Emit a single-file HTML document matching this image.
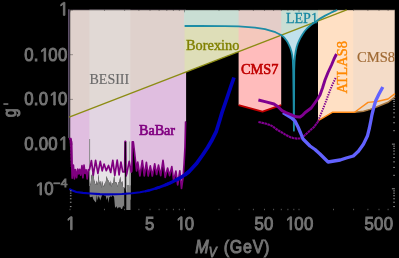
<!DOCTYPE html>
<html><head><meta charset="utf-8"><title>plot</title>
<style>
html,body{margin:0;padding:0;background:#000;}
body{width:399px;height:258px;overflow:hidden;}
svg{display:block;will-change:transform;}
text{font-family:"Liberation Sans",sans-serif;}
.ax{font-size:17.3px;letter-spacing:0.75px;stroke:#747474;stroke-width:0.95px;fill:#747474;}
.lb{font-family:"Liberation Serif",serif;font-size:14px;}
</style></head><body>
<svg width="399" height="258" viewBox="0 0 399 258">
<defs>
<clipPath id="cPlot"><rect x="70.0" y="9.8" width="324.6" height="200.7"/></clipPath>
<clipPath id="cBabar"><polygon points="70.0,9.8 186.1,9.8 186.1,121.3 185.6,121.3 185.6,121.5 185.0,147.0 184.0,165.0 183.0,178.0 181.5,188.5 179.8,170.8 177.7,184.8 175.9,171.0 173.7,180.9 171.8,166.6 169.6,175.6 167.6,168.0 165.2,177.3 163.0,160.4 160.7,175.7 158.5,165.2 156.6,174.5 154.7,163.9 152.3,176.0 150.3,165.8 148.2,176.0 146.4,162.3 144.3,175.8 142.3,160.7 139.9,175.9 137.7,162.0 136.6,171.0 134.5,152.0 133.3,141.8 132.3,141.8 131.8,171.0 131.2,172.2 129.2,161.4 126.9,173.2 126.0,176.0 125.5,141.3 125.1,141.3 124.6,172.0 122.8,171.8 120.9,162.0 119.1,174.9 117.2,160.1 114.8,175.4 112.8,160.4 110.7,172.5 108.5,165.5 106.3,170.7 104.1,164.1 102.2,170.8 100.3,161.4 97.9,173.3 95.6,160.3 93.3,175.2 91.4,160.7 89.4,169.8 88.3,169.8 87.2,178.8 86.1,169.8 85.0,173.5 84.0,165.2 82.9,177.8 82.0,165.7 80.7,175.1 79.7,169.3 78.7,173.9 77.7,169.2 76.6,177.6 75.3,169.5 74.4,178.8 73.4,165.2 72.2,178.2 71.8,166.0 71.3,150.0 70.9,138.5 70.0,139.0"/></clipPath>
<clipPath id="cBes"><polygon points="89.4,9.8 130.4,9.8 130.4,200.0 124.3,187.4 123.2,187.7 122.2,181.0 121.1,183.5 120.2,176.6 119.2,182.9 118.2,182.2 117.4,187.0 116.7,182.9 115.9,182.0 115.0,182.7 114.1,175.0 113.4,183.2 112.4,183.3 111.6,187.0 110.9,180.6 110.1,186.1 109.4,182.5 108.5,180.4 107.7,180.6 106.7,176.0 105.6,182.7 104.8,183.2 103.9,187.0 103.0,185.1 102.0,180.7 101.3,188.0 100.2,180.7 99.4,183.7 98.5,173.9 97.7,185.2 96.8,180.4 96.0,185.2 95.2,183.8 94.2,180.6 93.3,173.1 92.5,173.2 91.4,175.7 90.5,185.6 89.6,181.2 89.4,184.0"/></clipPath>
<clipPath id="cOl"><polygon points="70.0,9.8 346.7,9.8 70.0,116.9"/></clipPath>
<clipPath id="cLep"><polygon points="184.3,9.8 184.3,26.0 184.6,26.0 200.0,26.0 225.0,26.1 238.7,26.4 255.0,27.7 265.0,29.2 271.0,30.8 275.4,32.2 281.5,35.2 284.0,37.4 286.3,40.3 287.8,42.6 289.2,45.3 290.4,48.2 291.4,51.4 292.2,55.0 292.8,60.0 293.2,70.0 293.6,100.0 293.9,130.7 293.9,130.7 294.1,100.0 294.2,70.0 294.5,62.0 295.0,56.0 295.8,51.0 296.7,47.0 297.8,43.5 299.2,40.3 300.8,37.2 302.6,34.2 304.8,31.0 307.8,27.7 311.2,24.8 315.0,22.2 320.0,18.6 325.2,15.6 331.0,12.7 337.3,10.0 337.3,9.8"/></clipPath>
<clipPath id="cCms7"><polygon points="238.6,9.8 281.2,9.8 281.2,105.1 262.5,111.6 238.6,105.1"/></clipPath>
<clipPath id="cBelowOl"><polygon points="70.0,116.9 346.7,9.8 399,9.8 399,258 70.0,258"/></clipPath>
</defs>
<rect width="399" height="258" fill="#000"/>
<!-- BESIII only -->
<polygon points="89.4,9.8 130.4,9.8 130.4,200.0 124.3,187.4 123.2,187.7 122.2,181.0 121.1,183.5 120.2,176.6 119.2,182.9 118.2,182.2 117.4,187.0 116.7,182.9 115.9,182.0 115.0,182.7 114.1,175.0 113.4,183.2 112.4,183.3 111.6,187.0 110.9,180.6 110.1,186.1 109.4,182.5 108.5,180.4 107.7,180.6 106.7,176.0 105.6,182.7 104.8,183.2 103.9,187.0 103.0,185.1 102.0,180.7 101.3,188.0 100.2,180.7 99.4,183.7 98.5,173.9 97.7,185.2 96.8,180.4 96.0,185.2 95.2,183.8 94.2,180.6 93.3,173.1 92.5,173.2 91.4,175.7 90.5,185.6 89.6,181.2 89.4,184.0" fill="#e7e3e7"/>
<!-- BaBar -->
<polygon points="70.0,9.8 186.1,9.8 186.1,121.3 185.6,121.3 185.6,121.5 185.0,147.0 184.0,165.0 183.0,178.0 181.5,188.5 179.8,170.8 177.7,184.8 175.9,171.0 173.7,180.9 171.8,166.6 169.6,175.6 167.6,168.0 165.2,177.3 163.0,160.4 160.7,175.7 158.5,165.2 156.6,174.5 154.7,163.9 152.3,176.0 150.3,165.8 148.2,176.0 146.4,162.3 144.3,175.8 142.3,160.7 139.9,175.9 137.7,162.0 136.6,171.0 134.5,152.0 133.3,141.8 132.3,141.8 131.8,171.0 131.2,172.2 129.2,161.4 126.9,173.2 126.0,176.0 125.5,141.3 125.1,141.3 124.6,172.0 122.8,171.8 120.9,162.0 119.1,174.9 117.2,160.1 114.8,175.4 112.8,160.4 110.7,172.5 108.5,165.5 106.3,170.7 104.1,164.1 102.2,170.8 100.3,161.4 97.9,173.3 95.6,160.3 93.3,175.2 91.4,160.7 89.4,169.8 88.3,169.8 87.2,178.8 86.1,169.8 85.0,173.5 84.0,165.2 82.9,177.8 82.0,165.7 80.7,175.1 79.7,169.3 78.7,173.9 77.7,169.2 76.6,177.6 75.3,169.5 74.4,178.8 73.4,165.2 72.2,178.2 71.8,166.0 71.3,150.0 70.9,138.5 70.0,139.0" fill="#e0bee0"/>
<g clip-path="url(#cBabar)"><polygon points="89.4,9.8 130.4,9.8 130.4,200.0 124.3,187.4 123.2,187.7 122.2,181.0 121.1,183.5 120.2,176.6 119.2,182.9 118.2,182.2 117.4,187.0 116.7,182.9 115.9,182.0 115.0,182.7 114.1,175.0 113.4,183.2 112.4,183.3 111.6,187.0 110.9,180.6 110.1,186.1 109.4,182.5 108.5,180.4 107.7,180.6 106.7,176.0 105.6,182.7 104.8,183.2 103.9,187.0 103.0,185.1 102.0,180.7 101.3,188.0 100.2,180.7 99.4,183.7 98.5,173.9 97.7,185.2 96.8,180.4 96.0,185.2 95.2,183.8 94.2,180.6 93.3,173.1 92.5,173.2 91.4,175.7 90.5,185.6 89.6,181.2 89.4,184.0" fill="#e2d5e2"/></g>
<!-- above olive, x<185 -->
<g clip-path="url(#cOl)"><rect x="70.0" y="9.8" width="114.3" height="120" fill="#dfd1cc"/>
<rect x="89.4" y="9.8" width="41" height="120" fill="#e1d9d5"/>
<!-- Borexino only -->
<rect x="184.3" y="9.8" width="170" height="120" fill="#dedeb8"/>
<rect x="238.6" y="9.8" width="42.6" height="120" fill="#f4c8bc"/>
<rect x="318" y="9.8" width="40" height="120" fill="#ffe0c4"/>
</g>
<!-- CMS7 below olive -->
<g clip-path="url(#cBelowOl)"><polygon points="238.6,9.8 281.2,9.8 281.2,105.1 262.5,111.6 238.6,105.1" fill="#ffbcbc"/></g>
<!-- LEP -->
<g clip-path="url(#cLep)">
<rect x="184.3" y="9.8" width="160" height="125" fill="#c1e1ec"/>
<g clip-path="url(#cOl)"><rect x="184.3" y="9.8" width="160" height="125" fill="#c9ded4"/>
<rect x="238.6" y="9.8" width="42.6" height="125" fill="#e4cdc8"/>
<rect x="318" y="9.8" width="40" height="125" fill="#e9dcc6"/></g>
</g>
<!-- ATLAS8 / CMS8 -->
<g clip-path="url(#cBelowOl)">
<polygon points="318.0,9.8 355.0,9.8 355.0,112.3 332.3,112.3 319.5,119.8 318.0,121.4" fill="#ffe0c4"/>
</g>
<polygon points="353.2,9.8 395.0,9.8 395.0,96.8 388.0,102.3 377.0,106.8 370.0,109.4 363.5,111.2 354.6,112.3 353.2,112.3" fill="#f4dcc8"/>
<polygon points="354.6,112.3 368.0,102.4 377.0,101.5 388.0,99.0 395.0,93.6 395.0,96.8 388.0,102.3 377.0,106.8 370.0,109.4 363.5,111.2 354.6,112.3" fill="#e8d8c8"/>
<g clip-path="url(#cLep)"><rect x="318" y="9.8" width="30" height="20" fill="#e9dcc6"/></g>

<!-- frame/ticks (black) -->
<g stroke="#000" stroke-width="0.6" fill="none" stroke-opacity="0.55"><line x1="70.0" y1="161.9" x2="70.0" y2="161.9"/><line x1="70.0" y1="157.6" x2="70.0" y2="157.6"/><line x1="70.0" y1="154.0" x2="70.0" y2="154.0"/><line x1="70.0" y1="151.0" x2="70.0" y2="151.0"/><line x1="70.0" y1="148.4" x2="70.0" y2="148.4"/><line x1="70.0" y1="146.1" x2="70.0" y2="146.1"/><line x1="70.0" y1="144.1" x2="73.0" y2="144.1"/><line x1="70.0" y1="130.6" x2="70.0" y2="130.6"/><line x1="70.0" y1="122.8" x2="70.0" y2="122.8"/><line x1="70.0" y1="117.2" x2="70.0" y2="117.2"/><line x1="70.0" y1="112.9" x2="70.0" y2="112.9"/><line x1="70.0" y1="109.3" x2="70.0" y2="109.3"/><line x1="70.0" y1="106.3" x2="70.0" y2="106.3"/><line x1="70.0" y1="103.7" x2="70.0" y2="103.7"/><line x1="70.0" y1="101.4" x2="70.0" y2="101.4"/><line x1="70.0" y1="99.4" x2="73.0" y2="99.4"/><line x1="70.0" y1="85.9" x2="70.0" y2="85.9"/><line x1="70.0" y1="78.1" x2="70.0" y2="78.1"/><line x1="70.0" y1="72.5" x2="70.0" y2="72.5"/><line x1="70.0" y1="68.2" x2="70.0" y2="68.2"/><line x1="70.0" y1="64.6" x2="70.0" y2="64.6"/><line x1="70.0" y1="61.6" x2="70.0" y2="61.6"/><line x1="70.0" y1="59.0" x2="70.0" y2="59.0"/><line x1="70.0" y1="56.7" x2="70.0" y2="56.7"/><line x1="70.0" y1="54.7" x2="73.0" y2="54.7"/><line x1="70.0" y1="41.2" x2="70.0" y2="41.2"/><line x1="70.0" y1="33.4" x2="70.0" y2="33.4"/><line x1="70.0" y1="27.8" x2="70.0" y2="27.8"/><line x1="70.0" y1="23.5" x2="70.0" y2="23.5"/><line x1="70.0" y1="19.9" x2="70.0" y2="19.9"/><line x1="70.0" y1="16.9" x2="70.0" y2="16.9"/><line x1="70.0" y1="14.3" x2="70.0" y2="14.3"/><line x1="70.0" y1="12.0" x2="70.0" y2="12.0"/><line x1="70.0" y1="10.0" x2="73.0" y2="10.0"/><line x1="70.0" y1="9.8" x2="70.0" y2="12.3"/><line x1="104.5" y1="9.8" x2="104.5" y2="11.0"/><line x1="124.6" y1="9.8" x2="124.6" y2="11.0"/><line x1="138.9" y1="9.8" x2="138.9" y2="11.0"/><line x1="150.0" y1="9.8" x2="150.0" y2="11.0"/><line x1="159.1" y1="9.8" x2="159.1" y2="11.0"/><line x1="166.8" y1="9.8" x2="166.8" y2="11.0"/><line x1="173.4" y1="9.8" x2="173.4" y2="11.0"/><line x1="179.3" y1="9.8" x2="179.3" y2="11.0"/><line x1="184.5" y1="9.8" x2="184.5" y2="12.3"/><line x1="219.0" y1="9.8" x2="219.0" y2="11.0"/><line x1="239.1" y1="9.8" x2="239.1" y2="11.0"/><line x1="253.4" y1="9.8" x2="253.4" y2="11.0"/><line x1="264.5" y1="9.8" x2="264.5" y2="11.0"/><line x1="273.6" y1="9.8" x2="273.6" y2="11.0"/><line x1="281.3" y1="9.8" x2="281.3" y2="11.0"/><line x1="287.9" y1="9.8" x2="287.9" y2="11.0"/><line x1="293.8" y1="9.8" x2="293.8" y2="11.0"/><line x1="299.0" y1="9.8" x2="299.0" y2="12.3"/><line x1="333.5" y1="9.8" x2="333.5" y2="11.0"/><line x1="353.6" y1="9.8" x2="353.6" y2="11.0"/><line x1="367.9" y1="9.8" x2="367.9" y2="11.0"/><line x1="379.0" y1="9.8" x2="379.0" y2="11.0"/><line x1="388.1" y1="9.8" x2="388.1" y2="11.0"/>
<rect x="69.3" y="9.8" width="325.7" height="200.7" stroke-width="1"/></g>
<rect x="69.3" y="9.5" width="0.9" height="156" fill="#000"/>
<rect x="68.1" y="9.3" width="1.5" height="128.6" fill="#685874"/>
<polygon points="68.6,137.7 71.3,137.7 72.5,142 72.8,167 70.7,167 70.2,150 69.6,141" fill="#800080"/>
<line x1="70.1" y1="140" x2="70.1" y2="190" stroke="#000" stroke-width="0.8" stroke-dasharray="1.3 2.2"/>

<!-- lines -->
<polygon points="89.6,181.2 90.5,185.6 91.4,175.7 92.5,173.2 93.3,173.1 94.2,180.6 95.2,183.8 96.0,185.2 96.8,180.4 97.7,185.2 98.5,173.9 99.4,183.7 100.2,180.7 101.3,188.0 102.0,180.7 103.0,185.1 103.9,187.0 104.8,183.2 105.6,182.7 106.7,176.0 107.7,180.6 108.5,180.4 109.4,182.5 110.1,186.1 110.9,180.6 111.6,187.0 112.4,183.3 113.4,183.2 114.1,175.0 115.0,182.7 115.9,182.0 116.7,182.9 117.4,187.0 118.2,182.2 119.2,182.9 120.2,176.6 121.1,183.5 122.2,181.0 123.2,187.7 124.3,187.4 124.3,207.3 123.2,205.4 122.2,208.8 121.1,209.1 120.2,206.9 119.2,207.6 118.2,207.5 117.4,208.7 116.7,206.0 115.9,207.8 115.0,207.1 114.1,196.9 113.4,195.9 112.4,195.3 111.6,197.2 110.9,195.7 110.1,197.1 109.4,196.9 108.5,202.9 107.7,196.8 106.7,200.0 105.6,195.5 104.8,195.7 103.9,195.0 103.0,194.8 102.0,195.3 101.3,197.2 100.2,200.5 99.4,197.5 98.5,196.0 97.7,200.4 96.8,195.1 96.0,202.6 95.2,201.8 94.2,200.6 93.3,199.3 92.5,196.4 91.4,196.9 90.5,197.2 89.6,196.6" fill="#7f7f7f"/>
<rect x="126.3" y="141.5" width="4.2" height="44" fill="#d6d6d6"/>
<rect x="126.3" y="185" width="4.2" height="25" fill="#808080"/>
<rect x="126.3" y="141.5" width="0.7" height="45" fill="#8a8a8a"/><rect x="129.0" y="141.5" width="0.8" height="45" fill="#9a9a9a"/>
<line x1="89.6" y1="139" x2="89.6" y2="186" stroke="#808080" stroke-width="0.9"/>
<polyline points="70.9,138.5 71.3,150.0 71.8,166.0 72.2,178.2 73.4,165.2 74.4,178.8 75.3,169.5 76.6,177.6 77.7,169.2 78.7,173.9 79.7,169.3 80.7,175.1 82.0,165.7 82.9,177.8 84.0,165.2 85.0,173.5 86.1,169.8 87.2,178.8 88.3,169.8 89.4,169.8 91.4,160.7 93.3,175.2 95.6,160.3 97.9,173.3 100.3,161.4 102.2,170.8 104.1,164.1 106.3,170.7 108.5,165.5 110.7,172.5 112.8,160.4 114.8,175.4 117.2,160.1 119.1,174.9 120.9,162.0 122.8,171.8 124.6,172.0 125.1,141.3 125.5,141.3 126.0,176.0 126.9,173.2 129.2,161.4 131.2,172.2 131.8,171.0 132.3,141.8 133.3,141.8 134.5,152.0 136.6,171.0 137.7,162.0 139.9,175.9 142.3,160.7 144.3,175.8 146.4,162.3 148.2,176.0 150.3,165.8 152.3,176.0 154.7,163.9 156.6,174.5 158.5,165.2 160.7,175.7 163.0,160.4 165.2,177.3 167.6,168.0 169.6,175.6 171.8,166.6 173.7,180.9 175.9,171.0 177.7,184.8 179.8,170.8 181.5,188.5 183.0,178.0 184.0,165.0 185.0,147.0 185.6,121.5" fill="none" stroke="#800080" stroke-width="1.7" stroke-linejoin="round"/>
<line x1="125.3" y1="142" x2="125.3" y2="210" stroke="#000" stroke-width="1.1"/>
<line x1="69.2" y1="117.2" x2="346.7" y2="9.8" stroke="#8c8c14" stroke-width="1.4"/>
<polyline points="184.6,26.0 200.0,26.0 225.0,26.1 238.7,26.4 255.0,27.7 265.0,29.2 271.0,30.8 275.4,32.2 281.5,35.2 284.0,37.4 286.3,40.3 287.8,42.6 289.2,45.3 290.4,48.2 291.4,51.4 292.2,55.0 292.8,60.0 293.2,70.0 293.6,100.0 293.9,130.7 293.9,130.7 294.1,100.0 294.2,70.0 294.5,62.0 295.0,56.0 295.8,51.0 296.7,47.0 297.8,43.5 299.2,40.3 300.8,37.2 302.6,34.2 304.8,31.0 307.8,27.7 311.2,24.8 315.0,22.2 320.0,18.6 325.2,15.6 331.0,12.7 337.3,10.0" fill="none" stroke="#1c8ca6" stroke-width="1.8" stroke-linejoin="round"/>
<polyline points="238.6,105.1 262.5,111.6 281.2,105.1" fill="none" stroke="#c00000" stroke-width="1.9" stroke-linejoin="round"/>
<polyline points="354.6,112.3 363.5,111.2 370.0,109.4 377.0,106.8 388.0,102.3 395.0,96.8" fill="none" stroke="#a87840" stroke-width="1.5"/>
<polyline points="318.2,121.2 319.5,119.8 332.3,112.3 354.6,112.3 368.0,102.4 377.0,101.5 388.0,99.0 395.0,93.6" fill="none" stroke="#ff8c1a" stroke-width="1.4" stroke-linejoin="round"/>
<polyline points="258.4,122.0 264.0,123.2 270.0,125.0 273.0,126.6 276.0,129.0 281.0,132.0 286.0,135.0 290.0,137.0 293.0,138.0 297.0,138.6 301.0,138.4 303.0,137.0 305.0,135.0 309.5,131.0 314.0,127.0 318.5,121.0" fill="none" stroke="#800090" stroke-width="2.1" stroke-linejoin="round" stroke-dasharray="2.6 0.5"/>
<polyline points="318.2,121.0 320.5,115.0 322.8,109.4 325.5,102.5 328.1,95.5 330.2,90.0 332.3,84.9 334.2,81.0 336.0,77.4" fill="none" stroke="#800090" stroke-width="2" stroke-dasharray="1.4 1.1" stroke-linejoin="round"/>
<polyline points="283.0,112.6 287.0,115.2 291.0,117.6 295.0,121.0 298.0,127.0 300.6,133.0 303.0,139.0 310.0,146.0 315.0,149.5 320.0,154.0 328.1,162.0 334.0,161.0 340.2,160.0 346.3,158.0 353.3,156.0 358.4,151.2 363.4,144.2 367.4,136.1 369.4,128.0 371.0,120.0 371.9,115.0 373.6,108.0 375.6,101.0 379.0,94.0 382.8,87.0" fill="none" stroke="#6262ff" stroke-width="3.3" stroke-linejoin="round" stroke-linecap="butt"/>
<polyline points="258.4,100.0 266.0,101.8 274.0,104.0 278.0,106.8 282.0,110.6 286.0,112.6 291.0,114.6 296.0,116.8 300.1,117.0 303.0,114.8 305.2,112.5 311.2,108.0 317.6,99.0 320.0,95.0 322.5,88.0 325.0,80.0 328.0,72.5 331.5,65.0 334.0,59.0 336.5,54.0" fill="none" stroke="#800090" stroke-width="2.9" stroke-linejoin="round" stroke-linecap="butt"/>
<polyline points="69.3,188.8 72.5,190.6 76.3,192.0 83.0,192.9 90.3,193.5 100.0,194.1 107.9,194.4 115.0,194.3 121.9,194.0 132.0,193.3 140.0,192.2 145.0,191.3 150.0,190.2" fill="none" stroke="#0000ba" stroke-width="2.1" stroke-linejoin="round"/><polyline points="145.0,191.3 150.0,190.2 155.0,188.7 160.0,187.0" fill="none" stroke="#0000ba" stroke-width="2.4" stroke-linejoin="round"/><polyline points="155.0,188.7 160.0,187.0 165.0,185.1 170.0,183.0" fill="none" stroke="#0000ba" stroke-width="2.8" stroke-linejoin="round"/><polyline points="165.0,185.1 170.0,183.0 175.0,180.6 180.0,178.0" fill="none" stroke="#0000ba" stroke-width="3.1" stroke-linejoin="round"/><polyline points="175.0,180.6 180.0,178.0 185.0,174.8 189.4,171.3" fill="none" stroke="#0000ba" stroke-width="3.4" stroke-linejoin="round"/><polyline points="185.0,174.8 189.4,171.3 196.3,163.8 202.6,155.0 207.6,147.5 211.3,141.3 216.3,131.3 219.5,121.0 222.0,112.5 227.0,98.0 231.0,86.0 234.0,77.5" fill="none" stroke="#0000ba" stroke-width="3.7" stroke-linejoin="round"/>

<!-- tick dots -->
<rect x="69.5" y="208.8" width="1" height="1.4" fill="#555"/><rect x="104.0" y="208.8" width="1" height="1.4" fill="#555"/><rect x="124.1" y="208.8" width="1" height="1.4" fill="#555"/><rect x="138.4" y="208.8" width="1" height="1.4" fill="#555"/><rect x="149.5" y="208.8" width="1" height="1.4" fill="#555"/><rect x="158.6" y="208.8" width="1" height="1.4" fill="#555"/><rect x="166.3" y="208.8" width="1" height="1.4" fill="#555"/><rect x="172.9" y="208.8" width="1" height="1.4" fill="#555"/><rect x="178.8" y="208.8" width="1" height="1.4" fill="#555"/><rect x="184.0" y="208.8" width="1" height="1.4" fill="#555"/><rect x="218.5" y="208.8" width="1" height="1.4" fill="#555"/><rect x="238.6" y="208.8" width="1" height="1.4" fill="#555"/><rect x="252.9" y="208.8" width="1" height="1.4" fill="#555"/><rect x="264.0" y="208.8" width="1" height="1.4" fill="#555"/><rect x="273.1" y="208.8" width="1" height="1.4" fill="#555"/><rect x="280.8" y="208.8" width="1" height="1.4" fill="#555"/><rect x="287.4" y="208.8" width="1" height="1.4" fill="#555"/><rect x="293.3" y="208.8" width="1" height="1.4" fill="#555"/><rect x="298.5" y="208.8" width="1" height="1.4" fill="#555"/><rect x="333.0" y="208.8" width="1" height="1.4" fill="#555"/><rect x="353.1" y="208.8" width="1" height="1.4" fill="#555"/><rect x="367.4" y="208.8" width="1" height="1.4" fill="#555"/><rect x="378.5" y="208.8" width="1" height="1.4" fill="#555"/><rect x="387.6" y="208.8" width="1" height="1.4" fill="#555"/><rect x="69.9" y="206.0" width="1.6" height="1.1" fill="#858585"/><rect x="69.9" y="201.7" width="1.6" height="1.1" fill="#858585"/><rect x="69.9" y="198.2" width="1.6" height="1.1" fill="#858585"/><rect x="69.9" y="195.2" width="1.6" height="1.1" fill="#858585"/><rect x="69.9" y="192.6" width="1.6" height="1.1" fill="#858585"/><rect x="69.9" y="190.3" width="1.6" height="1.1" fill="#858585"/><rect x="393.2" y="206.0" width="1.7" height="1.1" fill="#808080"/><rect x="393.2" y="201.7" width="1.7" height="1.1" fill="#808080"/><rect x="393.2" y="198.2" width="1.7" height="1.1" fill="#808080"/><rect x="393.2" y="195.2" width="1.7" height="1.1" fill="#808080"/><rect x="393.2" y="192.6" width="1.7" height="1.1" fill="#808080"/><rect x="393.2" y="190.3" width="1.7" height="1.1" fill="#808080"/><rect x="391.9" y="188.2" width="3.0" height="1.1" fill="#808080"/><rect x="393.2" y="174.8" width="1.7" height="1.1" fill="#808080"/><rect x="393.2" y="166.9" width="1.7" height="1.1" fill="#808080"/><rect x="393.2" y="161.3" width="1.7" height="1.1" fill="#808080"/><rect x="393.2" y="157.0" width="1.7" height="1.1" fill="#808080"/><rect x="393.2" y="153.5" width="1.7" height="1.1" fill="#808080"/><rect x="393.2" y="150.5" width="1.7" height="1.1" fill="#808080"/><rect x="393.2" y="147.9" width="1.7" height="1.1" fill="#808080"/><rect x="393.2" y="145.6" width="1.7" height="1.1" fill="#808080"/><rect x="391.9" y="143.6" width="3.0" height="1.1" fill="#808080"/><rect x="393.2" y="130.1" width="1.7" height="1.1" fill="#808080"/><rect x="393.2" y="122.2" width="1.7" height="1.1" fill="#808080"/><rect x="393.2" y="116.6" width="1.7" height="1.1" fill="#808080"/><rect x="393.2" y="112.3" width="1.7" height="1.1" fill="#808080"/><rect x="393.2" y="108.8" width="1.7" height="1.1" fill="#808080"/><rect x="393.2" y="105.8" width="1.7" height="1.1" fill="#808080"/><rect x="393.2" y="103.2" width="1.7" height="1.1" fill="#808080"/><rect x="393.2" y="100.9" width="1.7" height="1.1" fill="#808080"/><rect x="391.9" y="98.9" width="3.0" height="1.1" fill="#808080"/>

<!-- region labels -->
<text class="lb" x="89.5" y="83.9" fill="#6a6a6a" stroke="#6a6a6a" stroke-width="0.15">BESIII</text>
<text class="lb" x="139" y="134.5" fill="#800080" stroke="#800080" stroke-width="0.65" style="font-size:14.1px">BaBar</text>
<text class="lb" x="186.0" y="49.6" fill="#808000" stroke="#808000" stroke-width="0.4" style="font-size:14.35px">Borexino</text>
<text class="lb" x="241" y="73.9" fill="#c00000" stroke="#c00000" stroke-width="0.6" style="font-size:14.3px">CMS7</text>
<text class="lb" x="286" y="22.6" fill="#1888a2" stroke="#1888a2" stroke-width="0.3">LEP1</text>
<text class="lb" x="357" y="61.7" fill="#a06a34" stroke="#a06a34" stroke-width="0.2" style="font-size:14.6px" clip-path="url(#cPlot)">CMS8</text>
<text class="lb" transform="translate(346.7,93.6) rotate(-90)" fill="#ff8800" stroke="#ff8800" stroke-width="0.4" style="font-size:14.5px;letter-spacing:0.05px">ATLAS8</text>

<!-- axis labels -->
<g class="ax">
<path d="M515 0V1237L197 1010V1180L530 1409H696V0Z" transform="translate(59.18,15.35) scale(0.008194,-0.009208)" vector-effect="non-scaling-stroke"/>
<text transform="translate(24.15,61.25) scale(0.97,1.09)" style="font-size:17.3px;letter-spacing:0">0</text><text transform="translate(33.78,61.25) scale(0.97,1.09)" style="font-size:17.3px;letter-spacing:0">.</text><path d="M515 0V1237L197 1010V1180L530 1409H696V0Z" transform="translate(39.93,61.25) scale(0.008194,-0.009208)" vector-effect="non-scaling-stroke"/><text transform="translate(48.35,61.25) scale(0.97,1.09)" style="font-size:17.3px;letter-spacing:0">0</text><text transform="translate(57.98,61.25) scale(0.97,1.09)" style="font-size:17.3px;letter-spacing:0">0</text>
<text transform="translate(24.15,105.05) scale(0.97,1.09)" style="font-size:17.3px;letter-spacing:0">0</text><text transform="translate(33.78,105.05) scale(0.97,1.09)" style="font-size:17.3px;letter-spacing:0">.</text><text transform="translate(38.73,105.05) scale(0.97,1.09)" style="font-size:17.3px;letter-spacing:0">0</text><path d="M515 0V1237L197 1010V1180L530 1409H696V0Z" transform="translate(49.55,105.05) scale(0.008194,-0.009208)" vector-effect="non-scaling-stroke"/><text transform="translate(57.98,105.05) scale(0.97,1.09)" style="font-size:17.3px;letter-spacing:0">0</text>
<text transform="translate(24.15,149.75) scale(0.97,1.09)" style="font-size:17.3px;letter-spacing:0">0</text><text transform="translate(33.78,149.75) scale(0.97,1.09)" style="font-size:17.3px;letter-spacing:0">.</text><text transform="translate(38.73,149.75) scale(0.97,1.09)" style="font-size:17.3px;letter-spacing:0">0</text><text transform="translate(48.35,149.75) scale(0.97,1.09)" style="font-size:17.3px;letter-spacing:0">0</text><path d="M515 0V1237L197 1010V1180L530 1409H696V0Z" transform="translate(59.18,149.75) scale(0.008194,-0.009208)" vector-effect="non-scaling-stroke"/>
<path d="M515 0V1237L197 1010V1180L530 1409H696V0Z" transform="translate(35.80,194.95) scale(0.008194,-0.008616)" vector-effect="non-scaling-stroke"/><text transform="translate(44.22,194.95) scale(0.97,1.02)" style="font-size:17.3px;letter-spacing:0">0</text>
<text transform="translate(53.40,187.40) scale(0.97,0.95)" style="font-size:12.4px;letter-spacing:0">−</text><text transform="translate(60.72,187.40) scale(0.97,0.95)" style="font-size:12.4px;letter-spacing:0">4</text>
<path d="M515 0V1237L197 1010V1180L530 1409H696V0Z" transform="translate(66.39,229.75) scale(0.008194,-0.009208)" vector-effect="non-scaling-stroke"/>
<text transform="translate(144.99,229.75) scale(0.97,1.09)" style="font-size:17.3px;letter-spacing:0">5</text>
<path d="M515 0V1237L197 1010V1180L530 1409H696V0Z" transform="translate(176.38,229.75) scale(0.008194,-0.009208)" vector-effect="non-scaling-stroke"/><text transform="translate(184.80,229.75) scale(0.97,1.09)" style="font-size:17.3px;letter-spacing:0">0</text>
<text transform="translate(254.38,229.75) scale(0.97,1.09)" style="font-size:17.3px;letter-spacing:0">5</text><text transform="translate(264.00,229.75) scale(0.97,1.09)" style="font-size:17.3px;letter-spacing:0">0</text>
<path d="M515 0V1237L197 1010V1180L530 1409H696V0Z" transform="translate(285.86,229.75) scale(0.008194,-0.009208)" vector-effect="non-scaling-stroke"/><text transform="translate(294.29,229.75) scale(0.97,1.09)" style="font-size:17.3px;letter-spacing:0">0</text><text transform="translate(303.91,229.75) scale(0.97,1.09)" style="font-size:17.3px;letter-spacing:0">0</text>
<text transform="translate(364.46,229.75) scale(0.97,1.09)" style="font-size:17.3px;letter-spacing:0">5</text><text transform="translate(374.09,229.75) scale(0.97,1.09)" style="font-size:17.3px;letter-spacing:0">0</text><text transform="translate(383.71,229.75) scale(0.97,1.09)" style="font-size:17.3px;letter-spacing:0">0</text>
<text transform="translate(195.2,253.15) scale(0.93,1.09)" style="font-style:italic">M</text>
<text transform="translate(208.8,256.85) scale(0.93,1.09)" style="font-style:italic;font-size:12.6px">V</text>
<text transform="translate(223.8,253.15) scale(0.93,1.09)">(GeV)</text>
<text transform="translate(16.1,117.2) rotate(-90) scale(0.93,1.09)">g</text>
<rect x="3.4" y="103.2" width="4.9" height="1.7" stroke="none" fill="#6c6c6c"/>
</g>
</svg>
</body></html>
